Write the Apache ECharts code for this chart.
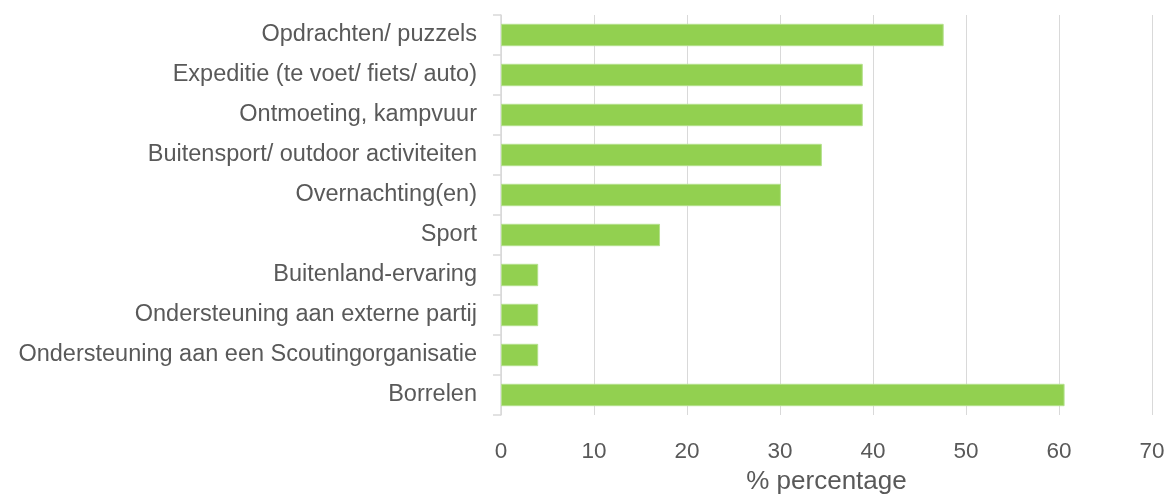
<!DOCTYPE html>
<html>
<head>
<meta charset="utf-8">
<script src="https://cdn.jsdelivr.net/npm/echarts@6/dist/echarts.min.js"></script>
<style>
  html, body { margin: 0; padding: 0; background: #fff; }
  #chart { width: 1168px; height: 500px; }
</style>
</head>
<body>
<div id="chart"></div>
<script>
  // categories top to bottom
  var categories = [
    'Opdrachten/ puzzels',
    'Expeditie (te voet/ fiets/ auto)',
    'Ontmoeting, kampvuur',
    'Buitensport/ outdoor activiteiten',
    'Overnachting(en)',
    'Sport',
    'Buitenland-ervaring',
    'Ondersteuning aan externe partij',
    'Ondersteuning aan een Scoutingorganisatie',
    'Borrelen'
  ];
  var percentages = [47.6, 38.9, 38.9, 34.5, 30.1, 17.1, 4.0, 4.0, 4.0, 60.6];
  var axisName = '% percentage';

  var textColor = '#595959';
  var lineColor = '#d9d9d9';

  var chart = echarts.init(document.getElementById('chart'), null, { renderer: 'canvas' });
  chart.setOption({
    animation: false,
    textStyle: { fontFamily: 'Liberation Sans, Arial, sans-serif' },
    grid: { left: 501, right: 16, top: 15, bottom: 79 },
    xAxis: {
      type: 'value',
      min: 0,
      max: 70,
      interval: 10,
      name: axisName,
      nameLocation: 'middle',
      nameGap: 54,
      nameTextStyle: { color: textColor, fontSize: 26 },
      axisLine: { show: false },
      axisTick: { show: false },
      axisLabel: { color: textColor, fontSize: 22.5, margin: 25 },
      splitLine: { show: true, lineStyle: { color: lineColor, width: 1 } }
    },
    yAxis: {
      type: 'category',
      inverse: true,
      data: categories,
      axisLine: { show: true, lineStyle: { color: lineColor, width: 1.5 } },
      axisTick: { show: true, length: 8, lineStyle: { color: lineColor, width: 1.5 } },
      axisLabel: { color: textColor, fontSize: 23.5, margin: 24, padding: [5, 0, 0, 0] },
      splitLine: { show: false }
    },
    series: [{
      type: 'bar',
      data: percentages,
      barCategoryGap: '44%',
      itemStyle: { color: '#92d050', borderColor: '#b4e08c', borderWidth: 1 }
    }]
  });
</script>
</body>
</html>
